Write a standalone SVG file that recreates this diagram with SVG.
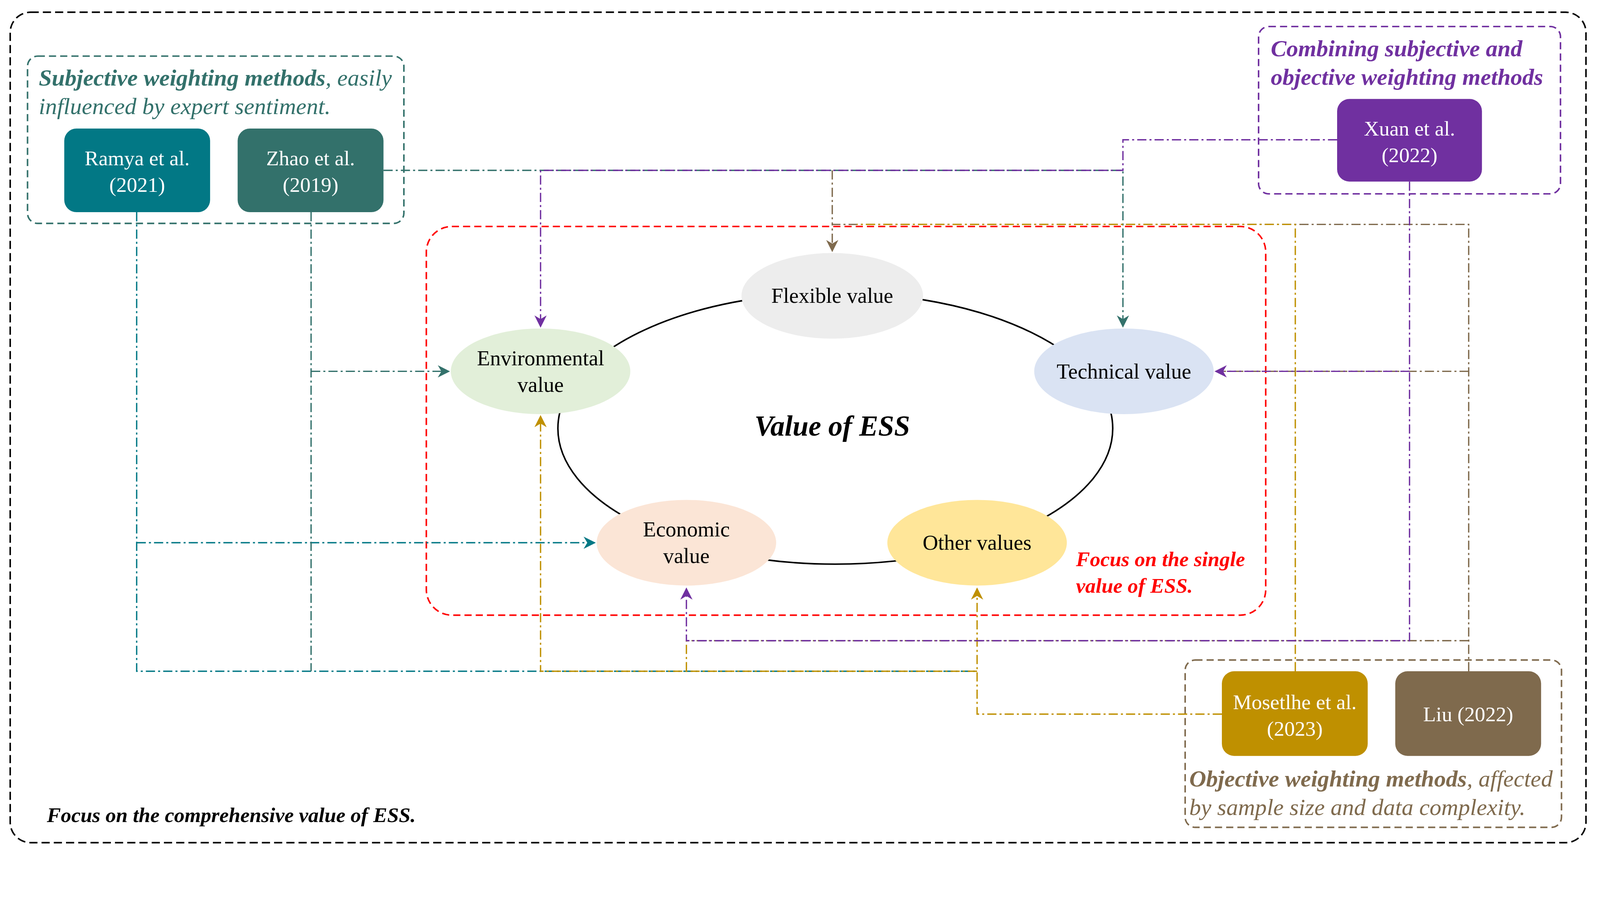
<svg xmlns="http://www.w3.org/2000/svg" width="4404" height="2347" viewBox="0 0 4404 2347">
<defs>
<style>
text{font-family:"Liberation Serif","Times New Roman",serif}
.w{fill:#fff;font-size:20.5px;text-anchor:middle}
.b{fill:#000;font-size:21px;text-anchor:middle}
.c{fill:none;stroke-width:1.3;stroke-dasharray:9 3 2 3}
.bi{font-style:italic;font-weight:bold}
.i{font-style:italic}
</style>
<marker id="mt" viewBox="0 0 10 10" refX="9" refY="5" markerWidth="12" markerHeight="12" markerUnits="userSpaceOnUse" orient="auto"><path d="M0,0L10,5L0,10L3,5z" fill="#027885"/></marker>
<marker id="mz" viewBox="0 0 10 10" refX="9" refY="5" markerWidth="12" markerHeight="12" markerUnits="userSpaceOnUse" orient="auto"><path d="M0,0L10,5L0,10L3,5z" fill="#33716b"/></marker>
<marker id="mp" viewBox="0 0 10 10" refX="9" refY="5" markerWidth="12" markerHeight="12" markerUnits="userSpaceOnUse" orient="auto"><path d="M0,0L10,5L0,10L3,5z" fill="#7030a0"/></marker>
<marker id="mg" viewBox="0 0 10 10" refX="9" refY="5" markerWidth="12" markerHeight="12" markerUnits="userSpaceOnUse" orient="auto"><path d="M0,0L10,5L0,10L3,5z" fill="#bf9000"/></marker>
<marker id="mb" viewBox="0 0 10 10" refX="9" refY="5" markerWidth="12" markerHeight="12" markerUnits="userSpaceOnUse" orient="auto"><path d="M0,0L10,5L0,10L3,5z" fill="#7f6a4d"/></marker>
</defs>
<rect width="4404" height="2347" fill="#fff"/>
<g transform="scale(2.611)">
<g id="frames" fill="none" stroke-width="1.5">
<rect x="10" y="12" width="1545" height="814" rx="20" stroke="#000" stroke-dasharray="8 4"/>
<rect x="27" y="55" width="369" height="164" rx="10" stroke="#33716b" stroke-dasharray="7 4"/>
<rect x="1234" y="26" width="296" height="164" rx="10" stroke="#7030a0" stroke-dasharray="7 4"/>
<rect x="418" y="222" width="823" height="381" rx="25" stroke="#ff0000" stroke-dasharray="7 4"/>
<rect x="1162" y="647" width="369" height="164" rx="10" stroke="#7f6a4d" stroke-dasharray="7 4"/>
<ellipse cx="819" cy="420" rx="272" ry="133" stroke="#000"/>
</g>
<g id="connectors">
<path class="c" stroke="#33716b" d="M376,167H1101V320" marker-end="url(#mz)"/>
<path class="c" stroke="#7030a0" d="M1311,137H1101V167H530V320" marker-end="url(#mp)"/>
<path class="c" stroke="#7f6a4d" d="M1440,658V220H816V246" marker-end="url(#mb)"/>
<path class="c" stroke="#7f6a4d" d="M816,167V220"/>
<path class="c" stroke="#bf9000" d="M1270,658V220H840"/>
<path class="c" stroke="#027885" d="M134,208V658H958"/>
<path class="c" stroke="#027885" d="M134,532H583" marker-end="url(#mt)"/>
<path class="c" stroke="#33716b" d="M305,208V658"/>
<path class="c" stroke="#33716b" d="M305,364H440" marker-end="url(#mz)"/>
<path class="c" stroke="#bf9000" d="M1198,700H958V577" marker-end="url(#mg)"/>
<path class="c" stroke="#bf9000" d="M958,658H530V408" marker-end="url(#mg)"/>
<path class="c" stroke="#bf9000" d="M673,658V628"/>
<path class="c" stroke="#7f6a4d" d="M1440,628H673"/>
<path class="c" stroke="#7f6a4d" d="M1440,364H1200"/>
<path class="c" stroke="#7030a0" d="M1382,178V628H673V577" marker-end="url(#mp)"/>
<path class="c" stroke="#7030a0" d="M1382,364H1192" marker-end="url(#mp)"/>
</g>
<g id="labels">
<text x="38" y="84" fill="#33716b" font-size="23" class="i"><tspan font-weight="bold">Subjective weighting methods</tspan>, easily</text>
<text x="38" y="112" fill="#33716b" font-size="23" class="i">influenced by expert sentiment.</text>
<text x="1246" y="55" fill="#7030a0" font-size="23" class="bi">Combining subjective and</text>
<text x="1246" y="83" fill="#7030a0" font-size="23" class="bi">objective weighting methods</text>
<text x="1166" y="771" fill="#7f6a4d" font-size="23" class="i"><tspan font-weight="bold">Objective weighting methods</tspan>, affected</text>
<text x="1166" y="799" fill="#7f6a4d" font-size="23" class="i">by sample size and data complexity.</text>
<text x="46" y="806" fill="#000" font-size="20.5" class="bi">Focus on the comprehensive value of ESS.</text>
<text x="1055" y="555" fill="#ff0000" font-size="20.5" class="bi">Focus on the single</text>
<text x="1055" y="581" fill="#ff0000" font-size="20.5" class="bi">value of ESS.</text>
<text x="816" y="427" fill="#000" font-size="28" class="bi" text-anchor="middle">Value of ESS</text>
</g>
<g id="ramya"><rect x="63" y="126" width="143" height="82" rx="12" fill="#027885"/><text class="w" x="134.5" y="162">Ramya et al.</text><text class="w" x="134.5" y="188">(2021)</text></g>
<g id="zhao"><rect x="233" y="126" width="143" height="82" rx="12" fill="#33716b"/><text class="w" x="304.5" y="162">Zhao et al.</text><text class="w" x="304.5" y="188">(2019)</text></g>
<g id="xuan"><rect x="1311" y="97" width="142" height="81" rx="12" fill="#7030a0"/><text class="w" x="1382" y="133">Xuan et al.</text><text class="w" x="1382" y="159">(2022)</text></g>
<g id="mosetlhe"><rect x="1198" y="658" width="143" height="83" rx="12" fill="#bf9000"/><text class="w" x="1269.5" y="695">Mosetlhe et al.</text><text class="w" x="1269.5" y="721">(2023)</text></g>
<g id="liu"><rect x="1368" y="658" width="143" height="83" rx="12" fill="#7f6a4d"/><text class="w" x="1439.5" y="707">Liu (2022)</text></g>
<g id="flexible"><ellipse cx="816" cy="290" rx="89" ry="42" fill="#ededed"/><text class="b" x="816" y="297">Flexible value</text></g>
<g id="environmental"><ellipse cx="530" cy="364" rx="88" ry="42" fill="#e2efd9"/><text class="b" x="530" y="358">Environmental</text><text class="b" x="530" y="384">value</text></g>
<g id="technical"><ellipse cx="1102" cy="364" rx="88" ry="42" fill="#dae3f3"/><text class="b" x="1102" y="371">Technical value</text></g>
<g id="economic"><ellipse cx="673" cy="532" rx="88" ry="42" fill="#fbe5d6"/><text class="b" x="673" y="526">Economic</text><text class="b" x="673" y="552">value</text></g>
<g id="other"><ellipse cx="958" cy="532" rx="88" ry="42" fill="#ffe699"/><text class="b" x="958" y="539">Other values</text></g>
</g>
</svg>
